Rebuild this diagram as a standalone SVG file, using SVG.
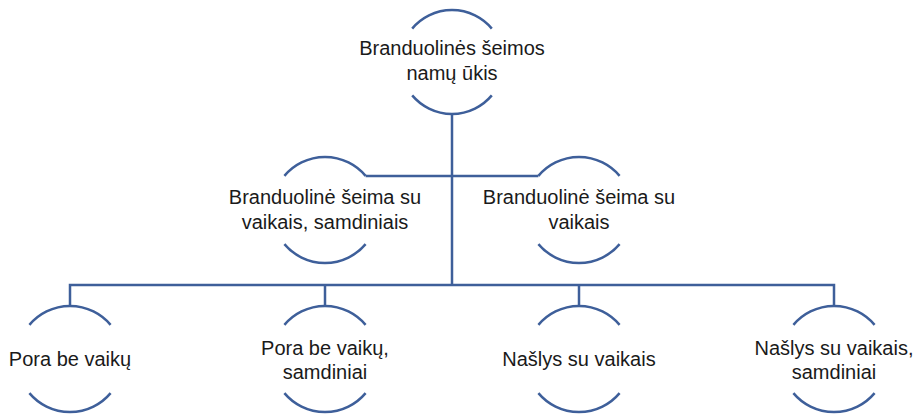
<svg xmlns="http://www.w3.org/2000/svg" width="916" height="415" viewBox="0 0 916 415">
<style>
.ln{fill:none;stroke:#3E5F9A;stroke-width:2.5}
.arc{fill:none;stroke:#3E5F9A;stroke-width:2.5}
.t{font-family:"Liberation Sans",Arial,sans-serif;font-size:20px;fill:#1a1a1a;text-anchor:middle}
</style>
<rect width="916" height="415" fill="#ffffff"/>
<g id="connectors">
<path class="ln" d="M452,114 V285"/>
<path class="ln" d="M365.6,176 H538.4"/>
<path class="ln" d="M70,306 V285 H834 V306"/>
<path class="ln" d="M325,285 V306"/>
<path class="ln" d="M579,285 V306"/>
</g>
<g id="n-root">
<path class="arc" d="M412.2,28.6 A52,52 0 0 1 491.8,28.6"/>
<path class="arc" d="M412.2,95.4 A52,52 0 0 0 491.8,95.4"/>
<text class="t" x="452" y="55">Branduolinės šeimos</text>
<text class="t" x="452" y="80">namų ūkis</text>
</g>
<g id="n-mid-left">
<path class="arc" d="M284.4,175.9 A53,53 0 0 1 365.6,175.9"/>
<path class="arc" d="M284.4,244.1 A53,53 0 0 0 365.6,244.1"/>
<text class="t" x="325" y="204">Branduolinė šeima su</text>
<text class="t" x="325" y="229">vaikais, samdiniais</text>
</g>
<g id="n-mid-right">
<path class="arc" d="M538.4,175.9 A53,53 0 0 1 619.6,175.9"/>
<path class="arc" d="M538.4,244.1 A53,53 0 0 0 619.6,244.1"/>
<text class="t" x="579" y="204">Branduolinė šeima su</text>
<text class="t" x="579" y="229">vaikais</text>
</g>
<g id="n-b1">
<path class="arc" d="M29.4,324.9 A53,53 0 0 1 110.6,324.9"/>
<path class="arc" d="M29.4,393.1 A53,53 0 0 0 110.6,393.1"/>
<text class="t" x="70" y="366">Pora be vaikų</text>
</g>
<g id="n-b2">
<path class="arc" d="M284.4,324.9 A53,53 0 0 1 365.6,324.9"/>
<path class="arc" d="M284.4,393.1 A53,53 0 0 0 365.6,393.1"/>
<text class="t" x="325" y="355">Pora be vaikų,</text>
<text class="t" x="325" y="379">samdiniai</text>
</g>
<g id="n-b3">
<path class="arc" d="M538.4,324.9 A53,53 0 0 1 619.6,324.9"/>
<path class="arc" d="M538.4,393.1 A53,53 0 0 0 619.6,393.1"/>
<text class="t" x="579" y="366">Našlys su vaikais</text>
</g>
<g id="n-b4">
<path class="arc" d="M793.4,324.9 A53,53 0 0 1 874.6,324.9"/>
<path class="arc" d="M793.4,393.1 A53,53 0 0 0 874.6,393.1"/>
<text class="t" x="834" y="355">Našlys su vaikais,</text>
<text class="t" x="834" y="379">samdiniai</text>
</g>
</svg>
